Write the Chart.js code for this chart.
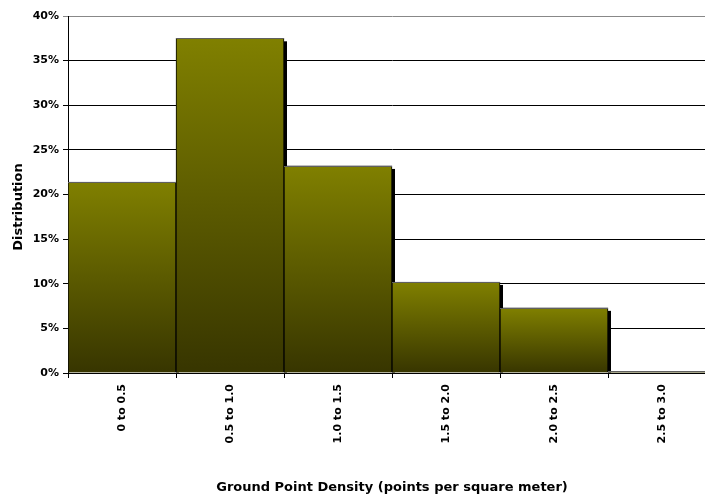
<!DOCTYPE html>
<html>
<head>
<meta charset="utf-8">
<script src="https://cdn.jsdelivr.net/npm/chart.js@4"></script>
<style>
  html, body { margin: 0; padding: 0; background: #fff; overflow: hidden; }
  #wrap { width: 705px; height: 499px; overflow: hidden; }
</style>
</head>
<body>
<div id="wrap"><canvas id="histo" width="720" height="499"></canvas></div>
<script>
const categories = ['0 to 0.5', '0.5 to 1.0', '1.0 to 1.5', '1.5 to 2.0', '2.0 to 2.5', '2.5 to 3.0'];
const distribution = [21.4, 37.5, 23.2, 10.2, 7.3, 0.2];
const yTicks = [0, 5, 10, 15, 20, 25, 30, 35, 40];

const FONT = 'DejaVu Sans';

// Per-bar vertical gradient (bright olive on top, dark at base)
const barFill = (context) => {
    const chart = context.chart;
    const y = chart.scales.y;
    if (!y || !chart.chartArea) return '#808000';
    const top = y.getPixelForValue(context.raw);
    const base = y.getPixelForValue(0);
    if (!(base > top)) return '#808000';
    const g = chart.ctx.createLinearGradient(0, top, 0, base);
    g.addColorStop(0, '#808000');
    g.addColorStop(1, '#373500');
    return g;
};

// Black drop shadow on the right of each bar, drawn behind the bars
const barShadow = {
    id: 'barShadow',
    beforeDatasetsDraw(chart) {
        const ctx = chart.ctx;
        const bars = chart.getDatasetMeta(0).data;
        ctx.save();
        ctx.fillStyle = '#000';
        bars.forEach(bar => {
            const right = bar.x + bar.width / 2;
            const h = bar.base - bar.y;
            if (h > 4) ctx.fillRect(right, bar.y + 3, 3, h - 3);
        });
        ctx.restore();
    },
    afterDatasetsDraw(chart) {
        // grey top edge like the original
        const ctx = chart.ctx;
        const bars = chart.getDatasetMeta(0).data;
        ctx.save();
        ctx.strokeStyle = '#606060';
        ctx.lineWidth = 1;
        bars.forEach(bar => {
            ctx.beginPath();
            ctx.moveTo(bar.x - bar.width / 2, Math.round(bar.y) + 0.5);
            ctx.lineTo(bar.x + bar.width / 2, Math.round(bar.y) + 0.5);
            ctx.stroke();
        });
        ctx.restore();
    }
};

// y-axis title, placed like the original (a bit below the plot middle)
const yTitle = {
    id: 'yTitle',
    afterDraw(chart) {
        const ctx = chart.ctx;
        ctx.save();
        ctx.translate(19, 207);
        ctx.rotate(-Math.PI / 2);
        ctx.font = 'bold 13px "' + FONT + '"';
        ctx.fillStyle = '#000';
        ctx.textAlign = 'center';
        ctx.textBaseline = 'middle';
        ctx.fillText('Distribution', 0, 0);
        ctx.restore();
    }
};

new Chart(document.getElementById('histo').getContext('2d'), {
    type: 'bar',
    data: {
        labels: categories,
        datasets: [{
            label: 'Distribution',
            data: distribution,
            backgroundColor: barFill,
            borderColor: '#000',
            borderWidth: 1,
            categoryPercentage: 1.0,
            barPercentage: 1.0
        }]
    },
    plugins: [barShadow, yTitle],
    options: {
        responsive: false,
        animation: false,
        layout: { padding: { top: 16, right: 4, left: 0, bottom: 0 } },
        plugins: {
            legend: { display: false },
            tooltip: { enabled: false }
        },
        scales: {
            x: {
                offset: true,
                afterFit: (scale) => { scale.height = 126; },
                grid: {
                    offset: true,
                    drawOnChartArea: false,
                    color: '#000',
                    tickLength: 5
                },
                border: { display: false },
                ticks: {
                    color: '#000',
                    font: { family: FONT, size: 11, weight: 'bold' },
                    maxRotation: 90,
                    minRotation: 90,
                    padding: 6
                },
                title: {
                    display: true,
                    text: 'Ground Point Density (points per square meter)',
                    color: '#000',
                    font: { family: FONT, size: 13, weight: 'bold' },
                    padding: { top: 0, bottom: 4 }
                }
            },
            y: {
                min: 0,
                max: 40,
                afterFit: (scale) => { scale.width = 68; },
                afterBuildTicks: (scale) => { scale.ticks = yTicks.map(v => ({ value: v })); },
                grid: {
                    color: (c) => c.tick && c.tick.value === 40 ? '#888' : '#000',
                    tickLength: 5
                },
                border: { display: true, color: '#000', width: 1 },
                ticks: {
                    color: '#000',
                    font: { family: FONT, size: 11, weight: 'bold' },
                    padding: 4,
                    callback: (v) => v + '%'
                }
            }
        }
    }
});
</script>
</body>
</html>
